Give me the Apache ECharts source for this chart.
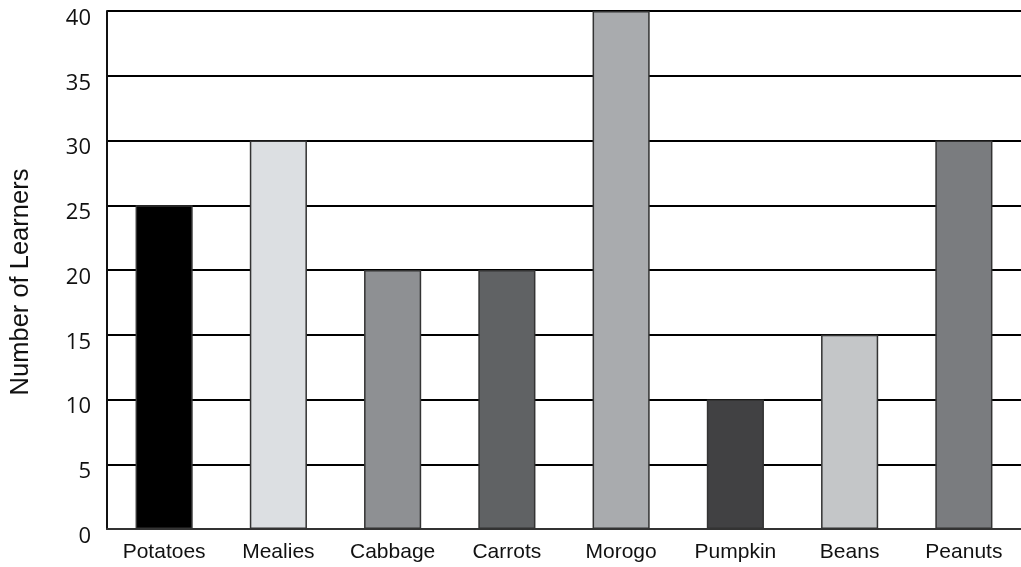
<!DOCTYPE html>
<html>
<head>
<meta charset="utf-8">
<script src="https://cdn.jsdelivr.net/npm/echarts@6/dist/echarts.min.js"></script>
<style>html,body{margin:0;padding:0;background:#fff}#c{width:1021px;height:567px}</style>
</head>
<body>
<div id="c"></div>
<script>
const categories = ['Potatoes','Mealies','Cabbage','Carrots','Morogo','Pumpkin','Beans','Peanuts'];
const learners = [25, 30, 20, 20, 40, 10, 15, 30];
const barColors = ['#000000','#dcdfe2','#8e9093','#606264','#a9abae','#414143','#c4c6c8','#7a7c7f'];
const yTicks = {min: 0, max: 40, interval: 5};

const chart = echarts.init(document.getElementById('c'));
chart.setOption({
  animation: false,
  grid: {left: 107, right: 0, top: 11, bottom: 38, containLabel: false},
  xAxis: {
    type: 'category',
    data: categories,
    axisLine: {show: true, lineStyle: {color: '#333', width: 2}},
    axisTick: {show: false},
    axisLabel: {interval: 0, color: '#111', fontFamily: 'Liberation Sans', fontSize: 21, margin: 13}
  },
  yAxis: {
    type: 'value',
    min: yTicks.min, max: yTicks.max, interval: yTicks.interval,
    name: 'Number of Learners',
    nameLocation: 'middle',
    nameGap: 73,
    nameRotate: 90,
    nameTextStyle: {color: '#111', fontFamily: 'Liberation Sans', fontSize: 25.5, padding: [0, 24, 0, 0]},
    axisLine: {show: true, lineStyle: {color: '#111', width: 2}},
    axisTick: {show: false},
    axisLabel: {color: '#111', fontFamily: 'Open Sans', fontSize: 22, margin: 16, verticalAlign: 'top', lineHeight: 15},
    splitLine: {show: true, lineStyle: {color: '#000', width: 2}}
  },
  series: [{
    type: 'bar',
    barWidth: '50%',
    data: learners.map((v, i) => ({value: v, itemStyle: {color: barColors[i]}})),
    itemStyle: {borderColor: '#333', borderWidth: 1.5}
  }]
});
</script>
</body>
</html>
